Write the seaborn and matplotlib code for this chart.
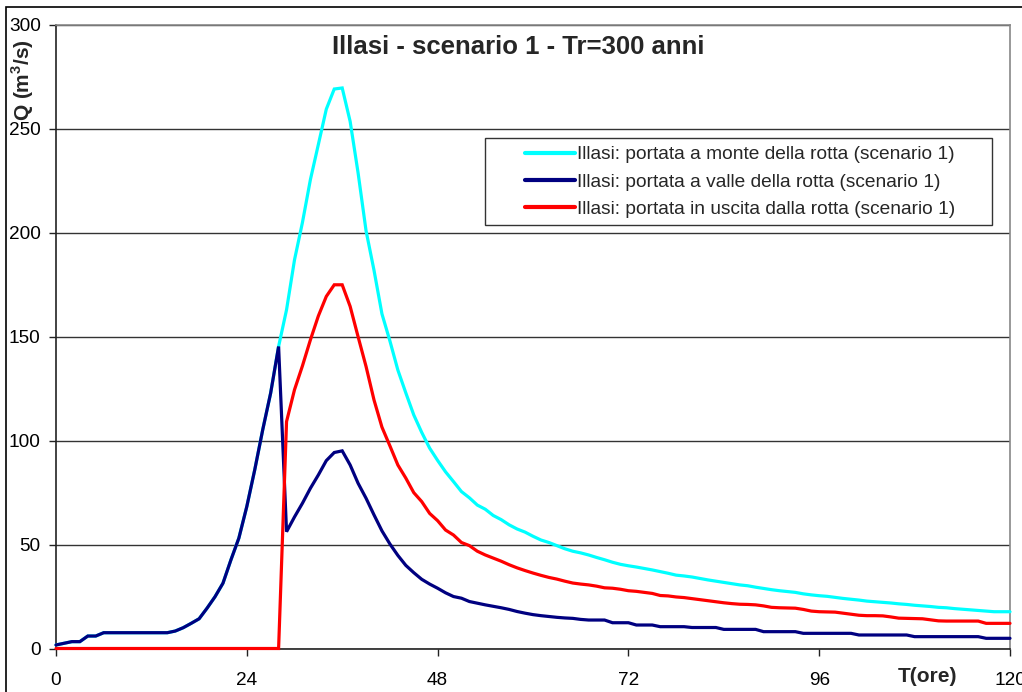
import matplotlib
matplotlib.use("Agg")
import matplotlib.pyplot as plt
import seaborn as sns
import pandas as pd
from matplotlib.patches import Rectangle

# ---------------- data ----------------
ore = list(range(121))

valle = [1.7, 2.5, 3.3, 3.3, 6.0, 6.0, 7.6, 7.6, 7.6, 7.6,
         7.6, 7.6, 7.6, 7.6, 7.6, 8.4, 10.0, 12.1, 14.3, 19.4,
         24.9, 31.4, 42.6, 53.1, 68.3, 86.0, 105.2, 122.9, 145.3, 56.2,
         63.3, 69.9, 77.1, 83.5, 90.4, 94.3, 95.1, 88.3, 79.5, 72.3,
         64.3, 56.6, 50.3, 44.8, 40.0, 36.5, 33.3, 31.0, 29.0, 26.8,
         25.0, 24.2, 22.6, 21.8, 21.0, 20.3, 19.6, 18.8, 17.8, 17.0,
         16.3, 15.8, 15.4, 15.0, 14.7, 14.5, 14.0, 13.7, 13.7, 13.7,
         12.4, 12.4, 12.4, 11.3, 11.3, 11.3, 10.5, 10.5, 10.5, 10.5,
         10.1, 10.1, 10.1, 10.1, 9.2, 9.2, 9.2, 9.2, 9.2, 8.1,
         8.1, 8.1, 8.1, 8.1, 7.3, 7.3, 7.3, 7.3, 7.3, 7.3,
         7.3, 6.5, 6.5, 6.5, 6.5, 6.5, 6.5, 6.5, 5.7, 5.7,
         5.7, 5.7, 5.7, 5.7, 5.7, 5.7, 5.7, 4.9, 4.9, 4.9,
         4.9]

uscita = [0, 0, 0, 0, 0, 0, 0, 0, 0, 0,
          0, 0, 0, 0, 0, 0, 0, 0, 0, 0,
          0, 0, 0, 0, 0, 0, 0, 0, 0, 109.2,
          124.5, 136.0, 148.5, 160.0, 169.4, 175.0, 175.0, 164.6, 150.0, 135.7,
          119.6, 106.5, 97.5, 88.3, 82.0, 75.0, 70.7, 65.0, 61.5, 57.0,
          54.6, 51.0, 49.5, 46.8, 45.0, 43.5, 42.0, 40.3, 38.8, 37.5,
          36.3, 35.2, 34.2, 33.4, 32.4, 31.5, 31.0, 30.6, 30.0, 29.2,
          29.0, 28.5, 27.8, 27.5, 27.0, 26.5, 25.5, 25.3, 24.8, 24.5,
          24.0, 23.5, 23.0, 22.5, 22.0, 21.6, 21.3, 21.2, 21.0, 20.5,
          19.8, 19.6, 19.5, 19.4, 18.8, 18.0, 17.7, 17.6, 17.5, 17.0,
          16.5, 16.0, 15.8, 15.8, 15.7, 15.2, 14.6, 14.5, 14.4, 14.3,
          13.8, 13.3, 13.2, 13.2, 13.2, 13.2, 13.2, 12.1, 12.1, 12.1,
          12.1]

monte = [1.7, 2.5, 3.3, 3.3, 6.0, 6.0, 7.6, 7.6, 7.6, 7.6,
         7.6, 7.6, 7.6, 7.6, 7.6, 8.4, 10.0, 12.1, 14.3, 19.4,
         24.9, 31.4, 42.6, 53.1, 68.3, 86.0, 105.2, 122.9, 145.3, 163.0,
         187.0, 205.0, 225.6, 242.5, 259.5, 269.2, 269.7, 253.6, 228.8, 201.0,
         182.0, 161.0, 148.0, 134.0, 123.0, 112.4, 104.0, 96.4, 90.5, 85.0,
         80.3, 75.5, 72.5, 69.0, 67.0, 64.0, 62.0, 59.5, 57.5, 56.0,
         54.0, 52.2, 51.0, 49.5, 48.0, 46.8, 46.0, 45.0, 43.8, 42.7,
         41.5, 40.5, 39.8, 39.2, 38.5, 37.8, 37.0, 36.2, 35.3, 34.9,
         34.4, 33.7, 33.0, 32.4, 31.8, 31.2, 30.6, 30.2, 29.5, 28.9,
         28.3, 27.8, 27.4, 27.0, 26.3, 25.8, 25.4, 25.1, 24.6, 24.1,
         23.7, 23.3, 22.8, 22.5, 22.2, 21.9, 21.5, 21.2, 20.8, 20.5,
         20.2, 19.8, 19.6, 19.2, 18.9, 18.6, 18.3, 18.0, 17.7, 17.7,
         17.7]

labels = ["Illasi: portata a monte della rotta (scenario 1)",
          "Illasi: portata a valle della rotta (scenario 1)",
          "Illasi: portata in uscita dalla rotta (scenario 1)"]
colors = ["#00FFFF", "#000080", "#FF0000"]
x_ticks = [0, 24, 48, 72, 96, 120]
y_ticks = [0, 50, 100, 150, 200, 250, 300]

title = "Illasi - scenario 1 - Tr=300 anni"
xlabel = "T(ore)"
ylabel = "Q (m$^3$/s)"

# ---------------- figure ----------------
sns.set_theme(style="white")
plt.rcParams["font.family"] = ["Liberation Sans", "DejaVu Sans"]
plt.rcParams["mathtext.fontset"] = "custom"
plt.rcParams["mathtext.rm"] = "Liberation Sans:bold"
plt.rcParams["mathtext.bf"] = "Liberation Sans:bold"

df = pd.concat([
    pd.DataFrame({"T": ore, "Q": monte, "serie": labels[0]}),
    pd.DataFrame({"T": ore, "Q": valle, "serie": labels[1]}),
    pd.DataFrame({"T": ore, "Q": uscita, "serie": labels[2]}),
], ignore_index=True)

fig = plt.figure(figsize=(10.22, 6.92), dpi=100)
ax = fig.add_axes([56 / 1022, 1 - 648.5 / 692, (1010 - 56) / 1022, (648.5 - 25) / 692])

sns.lineplot(data=df, x="T", y="Q", hue="serie", hue_order=labels,
             palette=dict(zip(labels, colors)), linewidth=2.3,
             estimator=None, sort=False, ax=ax, legend=True)
for ln in ax.lines:
    ln.set_clip_on(False)
    ln.set_zorder(3)
    ln.set_solid_joinstyle("miter")

ax.set_xlim(0, 120)
ax.set_ylim(0, 300)
ax.set_xticks(x_ticks)
ax.set_yticks(y_ticks)
ax.yaxis.grid(True, color="#333333", linewidth=1.0)
ax.xaxis.grid(False)
ax.set_axisbelow(True)

for s in ["left", "bottom"]:
    ax.spines[s].set_color("#222222")
    ax.spines[s].set_linewidth(1.2)
for s in ["top", "right"]:
    ax.spines[s].set_color("#888888")
    ax.spines[s].set_linewidth(1.2)

ax.tick_params(axis="both", direction="out", length=5, width=1, color="#222222",
               labelsize=13.7, labelcolor="black", left=True, bottom=True)
ax.tick_params(axis="y", pad=6)
ax.tick_params(axis="x", pad=12, length=5)

ax.set_xlabel("")
ax.set_ylabel(ylabel, fontsize=15, fontweight="bold", rotation=90, va="center")
ax.yaxis.set_label_coords(-0.035, 0.912)
ax.text(928 / 1022, 1 - 677 / 692, xlabel, transform=fig.transFigure,
        fontsize=15, fontweight="bold", ha="center", va="center")
ax.text(518 / 1022, 1 - 47 / 692, title, transform=fig.transFigure,
        fontsize=18.5, fontweight="bold", ha="center", va="center")

# legend
handles, labs = ax.get_legend_handles_labels()
ax.get_legend().remove()
box = Rectangle(((485 - 56) / 954, (648.5 - 225) / 623.5), (992 - 485) / 954,
                (225 - 138) / 623.5, transform=ax.transAxes, facecolor="white",
                edgecolor="#333333", linewidth=1.0, zorder=4)
ax.add_patch(box)
leg = ax.legend(handles, labs, loc="upper left",
                bbox_to_anchor=((525 - 56) / 954, (648.5 - 146) / 623.5),
                frameon=False, fontsize=13.8, borderpad=0, borderaxespad=0,
                handlelength=2.6, handletextpad=0.12, labelspacing=0.52)
leg.set_zorder(5)
for h in leg.get_lines():
    h.set_linewidth(3.0)

# outer chart border
fig.patches.append(Rectangle((6 / 1022, -0.1), 1.0, (692 - 7) / 692 + 0.1,
                             transform=fig.transFigure, fill=False,
                             edgecolor="black", linewidth=1.2))

fig.savefig("out.png", dpi=100)
